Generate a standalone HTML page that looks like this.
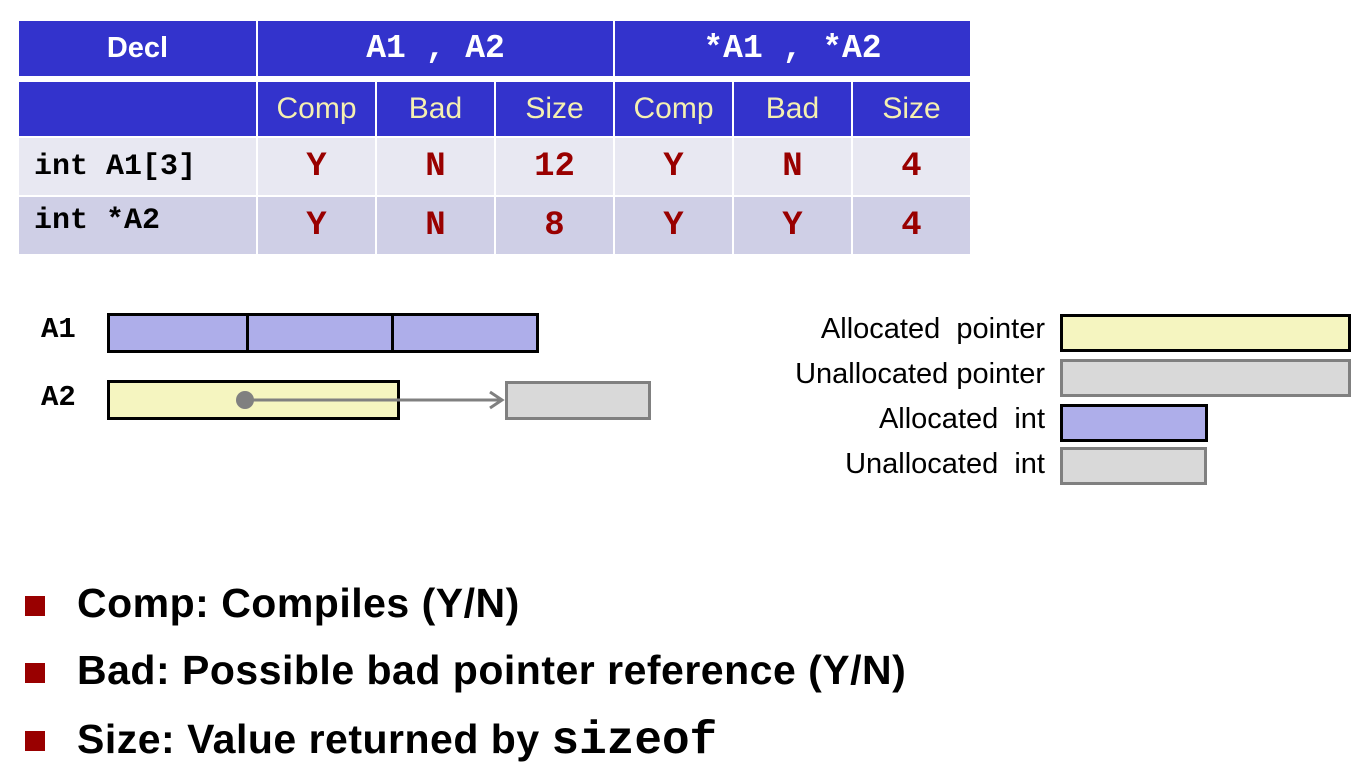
<!DOCTYPE html>
<html><head><style>
body{margin:0;width:1359px;height:772px;background:#fff;position:relative;overflow:hidden;font-family:"Liberation Sans",sans-serif}
.c{position:absolute;display:flex;align-items:center;justify-content:center;box-sizing:border-box}
.h{background:#3333cc;color:#fff}
.s{background:#3333cc;color:#f5f0b0;font-size:30px}
.r1{background:#e8e8f2}
.r2{background:#cfcfe6}
.m{font-family:"Liberation Mono",monospace;font-weight:bold}
.v{color:#990000;font-family:"Liberation Mono",monospace;font-weight:bold;font-size:34px}
.b{position:absolute;box-sizing:border-box}
.lab{position:absolute;font-size:29px;color:#000;text-align:right;width:400px}
.bul{position:absolute;left:25px;width:20px;height:20px;background:#990000}
.bt{position:absolute;left:77px;font-size:41px;font-weight:bold;white-space:nowrap;letter-spacing:0.5px}
</style></head><body>
<div class="c h" style="left:19px;top:21px;width:237px;height:55px;font-size:29px;font-weight:bold">Decl</div>
<div class="c h m" style="left:258px;top:21px;width:355px;height:55px;font-size:33px;white-space:pre">A1 , A2</div>
<div class="c h m" style="left:615px;top:21px;width:355px;height:55px;font-size:33px;white-space:pre">*A1 , *A2</div>
<div class="c h" style="left:19px;top:82px;width:237px;height:54px"></div>
<div class="c s" style="left:258px;top:82px;width:117px;height:54px">Comp</div>
<div class="c s" style="left:377px;top:82px;width:117px;height:54px">Bad</div>
<div class="c s" style="left:496px;top:82px;width:117px;height:54px">Size</div>
<div class="c s" style="left:615px;top:82px;width:117px;height:54px">Comp</div>
<div class="c s" style="left:734px;top:82px;width:117px;height:54px">Bad</div>
<div class="c s" style="left:853px;top:82px;width:117px;height:54px">Size</div>

<div class="c r1 m" style="left:19px;top:138px;width:237px;height:57px;justify-content:flex-start;padding-left:15px;font-size:30px">int A1[3]</div>
<div class="c r1 v" style="left:258px;top:138px;width:117px;height:57px">Y</div>
<div class="c r1 v" style="left:377px;top:138px;width:117px;height:57px">N</div>
<div class="c r1 v" style="left:496px;top:138px;width:117px;height:57px">12</div>
<div class="c r1 v" style="left:615px;top:138px;width:117px;height:57px">Y</div>
<div class="c r1 v" style="left:734px;top:138px;width:117px;height:57px">N</div>
<div class="c r1 v" style="left:853px;top:138px;width:117px;height:57px">4</div>

<div class="c r2 m" style="left:19px;top:197px;width:237px;height:57px;justify-content:flex-start;align-items:flex-start;padding-top:7px;padding-left:15px;font-size:30px">int *A2</div>
<div class="c r2 v" style="left:258px;top:197px;width:117px;height:57px">Y</div>
<div class="c r2 v" style="left:377px;top:197px;width:117px;height:57px">N</div>
<div class="c r2 v" style="left:496px;top:197px;width:117px;height:57px">8</div>
<div class="c r2 v" style="left:615px;top:197px;width:117px;height:57px">Y</div>
<div class="c r2 v" style="left:734px;top:197px;width:117px;height:57px">Y</div>
<div class="c r2 v" style="left:853px;top:197px;width:117px;height:57px">4</div>

<div class="m" style="position:absolute;left:41px;top:313px;font-size:29px">A1</div>
<div class="m" style="position:absolute;left:41px;top:381px;font-size:29px">A2</div>
<div class="b" style="left:107px;top:313px;width:432px;height:40px;background:#aeaeea;border:3px solid #000"></div>
<div class="b" style="left:246px;top:313px;width:3px;height:40px;background:#000"></div>
<div class="b" style="left:391px;top:313px;width:3px;height:40px;background:#000"></div>
<div class="b" style="left:107px;top:380px;width:293px;height:40px;background:#f5f5c0;border:3px solid #000"></div>
<div class="b" style="left:505px;top:381px;width:146px;height:39px;background:#d9d9d9;border:3px solid #808080"></div>
<svg style="position:absolute;left:0;top:0" width="1359" height="772">
<line x1="245" y1="400" x2="502" y2="400" stroke="#808080" stroke-width="3"/>
<polyline points="490,392 502,400 490,408" fill="none" stroke="#808080" stroke-width="3"/>
<circle cx="245" cy="400" r="9" fill="#808080"/>
</svg>

<div class="lab" style="left:645px;top:313px">Allocated&nbsp; pointer</div>
<div class="lab" style="left:645px;top:358px">Unallocated pointer</div>
<div class="lab" style="left:645px;top:403px">Allocated&nbsp; int</div>
<div class="lab" style="left:645px;top:448px">Unallocated&nbsp; int</div>
<div class="b" style="left:1060px;top:314px;width:291px;height:38px;background:#f5f5c0;border:3px solid #000"></div>
<div class="b" style="left:1060px;top:359px;width:291px;height:38px;background:#d9d9d9;border:3px solid #808080"></div>
<div class="b" style="left:1060px;top:404px;width:148px;height:38px;background:#aeaeea;border:3px solid #000"></div>
<div class="b" style="left:1060px;top:447px;width:147px;height:38px;background:#d9d9d9;border:3px solid #808080"></div>

<div class="bul" style="top:596px"></div>
<div class="bt" style="top:580px">Comp: Compiles (Y/N)</div>
<div class="bul" style="top:663px"></div>
<div class="bt" style="top:647px">Bad: Possible bad pointer reference (Y/N)</div>
<div class="bul" style="top:731px"></div>
<div class="bt" style="top:715px">Size: Value returned by <span style="font-family:'Liberation Mono',monospace;font-size:46px;letter-spacing:0">sizeof</span></div>
</body></html>
